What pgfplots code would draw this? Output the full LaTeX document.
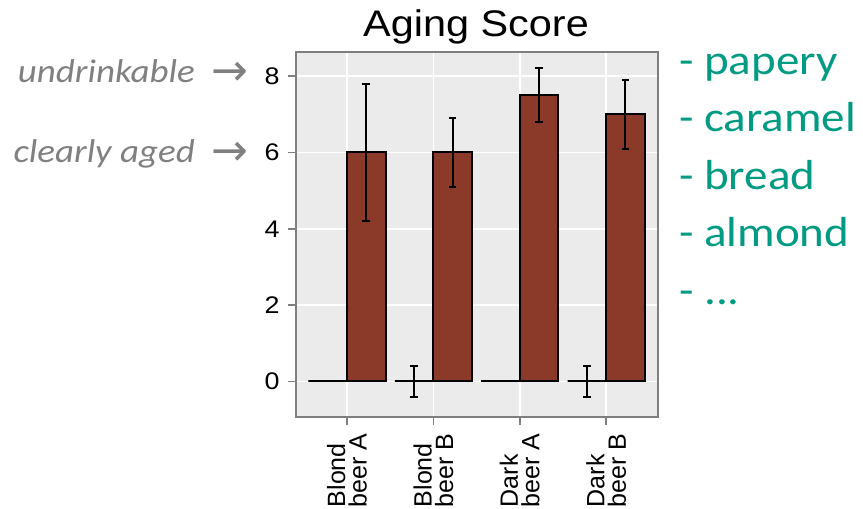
\documentclass[border=0pt]{standalone}
\usepackage{fontspec}
\setmainfont{Liberation Sans}[FakeStretch=1.12]
\newfontfamily\plainsans{Liberation Sans}
\newfontfamily\calib{Carlito}[FakeStretch=1.12]
\newfontfamily\djv{DejaVu Sans}
\usepackage{pgfplots}
\pgfplotsset{compat=1.18}
\definecolor{barbrown}{RGB}{139,58,42}
\definecolor{panelgrey}{RGB}{235,235,235}
\definecolor{framegrey}{RGB}{127,127,127}
\definecolor{notegrey}{RGB}{128,128,128}
\definecolor{teal}{RGB}{0,155,130}
\begin{document}
\begin{tikzpicture}[x=1pt,y=1pt]
\useasboundingbox (0,0) rectangle (863,509);
\begin{axis}[
  at={(296pt,92pt)}, anchor=south west,
  scale only axis, width=362pt, height=365pt,
  xmin=-0.59, xmax=3.6, ymin=-0.93, ymax=8.63,
  axis background/.style={fill=panelgrey},
  axis line style={framegrey, line width=1.6pt},
  tick style={framegrey, line width=1.6pt},
  major tick length=8pt, tick align=outside,
  xtick pos=bottom, ytick pos=left,
  grid=major, grid style={white, line width=1.5pt},
  xtick={0,1,2,3},
  xticklabels={{Blond\\beer A},{Blond\\beer B},{Dark\\beer A},{Dark\\beer B}},
  xticklabel style={rotate=90, anchor=east, align=left, xshift=-5pt, font=\plainsans\fontsize{25}{21.5}\selectfont},
  ytick={0,2,4,6,8},
  yticklabel style={xshift=-5pt, font=\fontsize{24}{21}\selectfont},
  /pgf/number format/assume math mode=true,
  ybar, bar width=0.446,
  error bars/error bar style={black, line width=2pt},
  error bars/error mark options={rotate=90, mark size=3.8pt, line width=2pt, black},
]
\addplot[bar shift=-0.223, draw=black, line width=2pt, fill=barbrown,
  error bars/.cd, y dir=both, y explicit]
  coordinates {(0,0) +- (0,0) (1,0) +- (0,0.4) (2,0) +- (0,0) (3,0) +- (0,0.4)};
\addplot[bar shift=0.223, draw=black, line width=2pt, fill=barbrown,
  error bars/.cd, y dir=both, y explicit]
  coordinates {(0,6) +- (0,1.8) (1,6) +- (0,0.9) (2,7.5) +- (0,0.7) (3,7.0) +- (0,0.9)};
\end{axis}
\node[anchor=base, font=\fontsize{37}{37}\selectfont] at (476,472) {Aging Score};
\node[anchor=base east, inner sep=0pt, text=notegrey, font=\calib\itshape\fontsize{33}{33}\selectfont] at (195,426) {undrinkable};
\node[anchor=base east, inner sep=0pt, text=notegrey, font=\calib\itshape\fontsize{33}{33}\selectfont] at (195,346) {clearly aged};
\node[anchor=base west, inner sep=0pt, text=notegrey, font=\djv\fontsize{44}{44}\selectfont] at (211,423) {→};
\node[anchor=base west, inner sep=0pt, text=notegrey, font=\djv\fontsize{44}{44}\selectfont] at (211,343) {→};
\node[anchor=base west, inner sep=0pt, text=teal, font=\calib\fontsize{42}{42}\selectfont] at (679,434) {- papery};
\node[anchor=base west, inner sep=0pt, text=teal, font=\calib\fontsize{42}{42}\selectfont] at (679,377) {- caramel};
\node[anchor=base west, inner sep=0pt, text=teal, font=\calib\fontsize{42}{42}\selectfont] at (679,319) {- bread};
\node[anchor=base west, inner sep=0pt, text=teal, font=\calib\fontsize{42}{42}\selectfont] at (679,262) {- almond};
\node[anchor=base west, inner sep=0pt, text=teal, font=\calib\fontsize{42}{42}\selectfont] at (679,204) {- ...};
\end{tikzpicture}
\end{document}
